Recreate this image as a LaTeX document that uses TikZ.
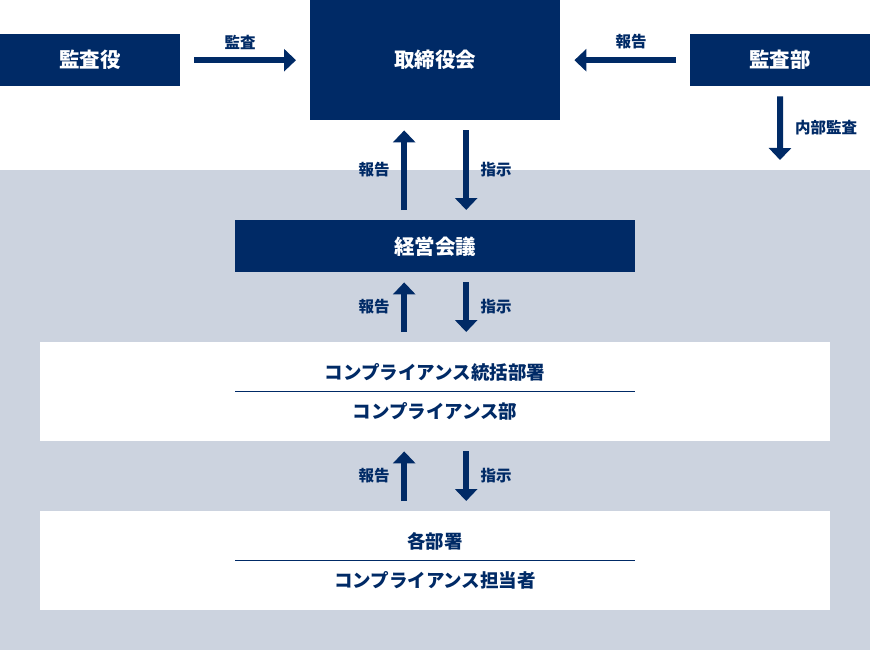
\documentclass[tikz,border=0pt]{standalone}
\usepackage{fontspec}
\setmainfont{Noto Sans CJK JP}
\usetikzlibrary{arrows.meta}
\definecolor{navy}{HTML}{002A66}
\definecolor{greybg}{HTML}{CCD3DF}
\tikzset{
  navybox/.style={fill=navy, text=white, font=\fontsize{20.5}{20.5}\selectfont\bfseries, inner sep=0pt, anchor=north west},
  whitebox/.style={fill=white, inner sep=0pt, anchor=north west},
  boxtext/.style={text=navy, font=\fontsize{18.5}{18.5}\selectfont\bfseries, inner sep=0pt},
  lbl/.style={text=navy, font=\fontsize{15.5}{15.5}\selectfont\bfseries, inner sep=0pt},
  arr/.style={draw=navy, line width=6pt, -{Triangle[width=22pt,length=12pt]}},
}
\begin{document}
\begin{tikzpicture}[x=1pt,y=-1pt]
\useasboundingbox (0,0) rectangle (870,650);
\fill[white] (0,0) rectangle (870,650);
\fill[greybg] (0,170) rectangle (870,650);
% top boxes
\node[navybox, minimum width=180pt, minimum height=52pt] (kansayaku) at (0,34) {監査役};
\node[navybox, minimum width=250pt, minimum height=120pt] (tori) at (310,0) {取締役会};
\node[navybox, minimum width=180pt, minimum height=52pt] (kansabu) at (690,34) {監査部};
\node[navybox, minimum width=400pt, minimum height=52pt] (keiei) at (235,220) {経営会議};
% white boxes
\node[whitebox, minimum width=790pt, minimum height=99pt] (comp) at (40,342) {};
\node[whitebox, minimum width=790pt, minimum height=99pt] (each) at (40,511) {};
\node[boxtext] (compA) at (435,372) {コンプライアンス統括部署};
\node[boxtext] (compB) at (435,411) {コンプライアンス部};
\node[boxtext] (eachA) at (435,541) {各部署};
\node[boxtext] (eachB) at (435,580) {コンプライアンス担当者};
\draw[navy, line width=1pt] (235,391) -- (635,391);
\draw[navy, line width=1pt] (235,560) -- (635,560);
% horizontal arrows
\draw[arr, shorten <=14pt, shorten >=14pt] (kansayaku.east) -- (tori.west |- kansayaku.east);
\node[lbl] (l1) at (240,42) {監査};
\draw[arr, shorten <=14pt, shorten >=14pt] (kansabu.west) -- (tori.east |- kansabu.west);
\node[lbl] (l2) at (631,42) {報告};
% internal audit
\coordinate (ia) at (780,160);
\draw[arr, shorten <=10pt] (kansabu.south) -- (ia);
\node[lbl] (l3) at (826,128) {内部監査};
% tori <-> keiei
\draw[arr, shorten <=10pt, shorten >=10pt] ([xshift=-31pt]keiei.north) -- ([xshift=-31pt]tori.south);
\draw[arr, shorten <=10pt, shorten >=10pt] ([xshift=31pt]tori.south) -- ([xshift=31pt]keiei.north);
\node[lbl] (l4) at (374,170) {報告};
\node[lbl] (l5) at (496,170) {指示};
% keiei <-> comp
\draw[arr, shorten <=10pt, shorten >=10pt] ([xshift=-31pt]comp.north) -- ([xshift=-31pt]keiei.south);
\draw[arr, shorten <=10pt, shorten >=10pt] ([xshift=31pt]keiei.south) -- ([xshift=31pt]comp.north);
\node[lbl] (l6) at (374,307) {報告};
\node[lbl] (l7) at (496,307) {指示};
% comp <-> each
\draw[arr, shorten <=10pt, shorten >=10pt] ([xshift=-31pt]each.north) -- ([xshift=-31pt]comp.south);
\draw[arr, shorten <=10pt, shorten >=10pt] ([xshift=31pt]comp.south) -- ([xshift=31pt]each.north);
\node[lbl] (l8) at (374,476) {報告};
\node[lbl] (l9) at (496,476) {指示};
\end{tikzpicture}
\end{document}
